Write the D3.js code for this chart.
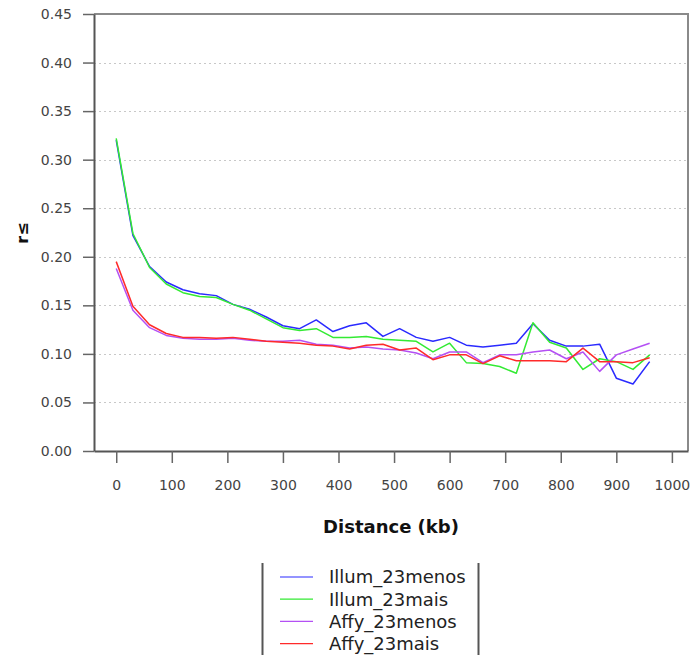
<!DOCTYPE html>
<html>
<head>
<meta charset="utf-8">
<script src="https://cdn.jsdelivr.net/npm/d3@7"></script>
<style>
  body { margin: 0; background: #fff; }
  svg { display: block; font-family: "DejaVu Sans", sans-serif; }
</style>
</head>
<body>
<div id="chart"></div>
<script>
// Data
var distances = [0, 30, 60, 90, 120, 150, 180, 210, 240, 270, 300, 330, 360, 390, 420, 450,
                 480, 510, 540, 570, 600, 630, 660, 690, 720, 750, 780, 810, 840, 870, 900, 930, 960];

var illumMenos = [0.320, 0.222, 0.190, 0.174, 0.166, 0.162, 0.160, 0.151, 0.146, 0.138, 0.129, 0.126,
                  0.135, 0.123, 0.129, 0.132, 0.118, 0.126, 0.117, 0.113, 0.117, 0.109, 0.107, 0.109,
                  0.111, 0.131, 0.114, 0.108, 0.108, 0.110, 0.075, 0.069, 0.092];
var illumMais = [0.322, 0.224, 0.189, 0.172, 0.163, 0.159, 0.158, 0.151, 0.145, 0.136, 0.127, 0.124,
                 0.126, 0.117, 0.117, 0.118, 0.115, 0.114, 0.113, 0.102, 0.111, 0.091, 0.090, 0.087,
                 0.080, 0.132, 0.112, 0.106, 0.084, 0.095, 0.092, 0.084, 0.099];
var affyMenos = [0.188, 0.145, 0.127, 0.119, 0.116, 0.115, 0.115, 0.116, 0.114, 0.113, 0.113, 0.114,
                 0.110, 0.109, 0.106, 0.107, 0.105, 0.104, 0.101, 0.095, 0.102, 0.102, 0.091, 0.099,
                 0.099, 0.102, 0.104, 0.095, 0.102, 0.082, 0.099, 0.105, 0.111];
var affyMais = [0.195, 0.149, 0.130, 0.121, 0.117, 0.117, 0.116, 0.117, 0.115, 0.113, 0.112, 0.111,
                0.109, 0.108, 0.105, 0.109, 0.110, 0.104, 0.106, 0.094, 0.099, 0.099, 0.090, 0.098,
                0.093, 0.093, 0.093, 0.092, 0.106, 0.092, 0.092, 0.091, 0.096];

var seriesNames = ["Illum_23menos", "Illum_23mais", "Affy_23menos", "Affy_23mais"];
var seriesValues = [illumMenos, illumMais, affyMenos, affyMais];
var seriesColors = ["#2a2aff", "#33ea33", "#b450f4", "#ff2a2a"];

var xTicks = [0, 100, 200, 300, 400, 500, 600, 700, 800, 900, 1000];
var yTicks = [0, 0.05, 0.10, 0.15, 0.20, 0.25, 0.30, 0.35, 0.40, 0.45];

// Layout
var width = 692, height = 655;
var plot = {left: 94, right: 688, top: 14, bottom: 451};

var svg = d3.select("#chart").append("svg")
    .attr("width", width)
    .attr("height", height);

var x = d3.scaleLinear().domain([-40, 1029]).range([plot.left, plot.right]);
var y = d3.scaleLinear().domain([0, 0.45]).range([plot.bottom, plot.top]);

// Dotted grid
svg.append("g")
    .selectAll("line")
    .data(yTicks.filter(function (t) { return t > 0 && t < 0.45; }))
    .enter().append("line")
    .attr("x1", plot.left).attr("x2", plot.right)
    .attr("y1", function (d) { return Math.round(y(d)) + 0.5; })
    .attr("y2", function (d) { return Math.round(y(d)) + 0.5; })
    .style("stroke", "#c8c8c8")
    .style("stroke-dasharray", "2,3");

// Frame top/right
svg.append("path")
    .attr("d", "M" + plot.left + "," + plot.top + "H" + plot.right + "V" + plot.bottom)
    .style("fill", "none")
    .style("stroke", "#8a8a8a")
    .style("stroke-width", 2);

// Axes
var yAxis = d3.axisLeft(y).tickValues(yTicks).tickFormat(d3.format(".2f"))
    .tickSize(11).tickSizeOuter(0).tickPadding(11);
var xAxis = d3.axisBottom(x).tickValues(xTicks).tickFormat(d3.format("d"))
    .tickSize(12).tickSizeOuter(0).tickPadding(17);

var gy = svg.append("g")
    .attr("transform", "translate(" + plot.left + ",0)")
    .call(yAxis);
var gx = svg.append("g")
    .attr("transform", "translate(0," + plot.bottom + ")")
    .call(xAxis);

[gx, gy].forEach(function (g) {
    g.select(".domain").style("stroke", "#555").style("stroke-width", 2);
    g.selectAll(".tick line").style("stroke", "#666").style("stroke-width", 1.5);
    g.selectAll(".tick text")
        .style("font-family", "DejaVu Sans")
        .style("font-size", "14px")
        .style("fill", "#444");
});

// Lines
var line = d3.line()
    .x(function (d) { return x(d[0]); })
    .y(function (d) { return y(d[1]); });

seriesValues.forEach(function (vals, i) {
    svg.append("path")
        .datum(distances.map(function (d, j) { return [d, vals[j]]; }))
        .attr("d", line)
        .style("fill", "none")
        .style("stroke", seriesColors[i])
        .style("stroke-width", 1.5)
        .style("stroke-linejoin", "round");
});

// Axis titles
svg.append("text")
    .attr("x", 391).attr("y", 533)
    .attr("text-anchor", "middle")
    .style("font-weight", "bold")
    .style("font-size", "18px")
    .style("fill", "#111")
    .text("Distance (kb)");

svg.append("text")
    .attr("transform", "translate(28,233)rotate(-90)")
    .attr("text-anchor", "middle")
    .style("font-weight", "bold")
    .style("font-size", "16px")
    .style("fill", "#111")
    .text("r≤");

// Legend
var legend = svg.append("g");
legend.append("line")
    .attr("x1", 262.5).attr("x2", 262.5).attr("y1", 563).attr("y2", height)
    .style("stroke", "#555").style("stroke-width", 2);
legend.append("line")
    .attr("x1", 478.5).attr("x2", 478.5).attr("y1", 563).attr("y2", height)
    .style("stroke", "#555").style("stroke-width", 2);

var rows = legend.selectAll(".row")
    .data(seriesNames)
    .enter().append("g")
    .attr("class", "row")
    .attr("transform", function (d, i) { return "translate(0," + (577 + i * 22.2) + ")"; });

rows.append("line")
    .attr("x1", 280).attr("x2", 313)
    .style("stroke", function (d, i) { return seriesColors[i]; })
    .style("stroke-width", 1.2);

rows.append("text")
    .attr("x", 329).attr("dy", "0.36em")
    .style("font-size", "18px")
    .style("fill", "#222")
    .text(function (d) { return d; });
</script>
</body>
</html>
